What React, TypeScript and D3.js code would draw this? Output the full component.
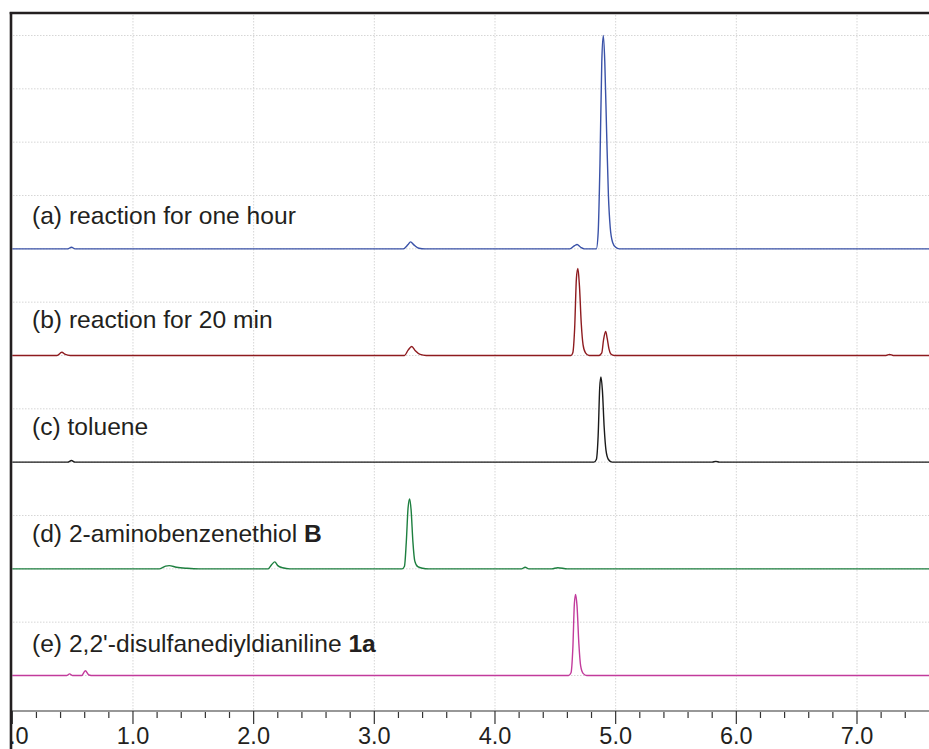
import React from "react";
import * as d3 from "d3";

// x-axis ticks (retention time, min)
const majorTicks = [0, 1, 2, 3, 4, 5, 6, 7];
const tickLabels = ["0.0", "1.0", "2.0", "3.0", "4.0", "5.0", "6.0", "7.0"];
const minorTicks = [0.2,0.4,0.6,0.8,1.2,1.4,1.6,1.8,2.2,2.4,2.6,2.8,3.2,3.4,3.6,3.8,4.2,4.4,4.6,4.8,5.2,5.4,5.6,5.8,6.2,6.4,6.6,6.8,7.2,7.4];
const gridY = [0,1,2,3,4,5,6,7,8,9,10,11,12];

// traces: [time, signal] (signal in grid units above each baseline)
const traceA: [number, number][] = [
  [0,0],[0.46,0],[0.49,0.03],[0.52,0],
  [3.24,0],[3.28,0.08],[3.30,0.13],[3.33,0.07],[3.37,0.01],[3.42,0],
  [4.62,0],[4.66,0.06],[4.68,0.08],[4.71,0.03],[4.74,0],
  [4.84,0],[4.855,0.3],[4.87,1.6],[4.885,3.5],[4.898,4.0],[4.91,3.5],[4.925,2.2],[4.94,1.0],[4.955,0.4],[4.975,0.12],[5.0,0.03],[5.03,0],
  [7.6,0],
];
const traceB: [number, number][] = [
  [0,0],[0.37,0],[0.41,0.06],[0.44,0.02],[0.48,0],
  [3.25,0],[3.28,0.1],[3.31,0.17],[3.34,0.09],[3.38,0.02],[3.43,0],
  [4.63,0],[4.645,0.05],[4.66,0.5],[4.675,1.45],[4.687,1.63],[4.70,1.3],[4.715,0.6],[4.73,0.2],[4.75,0.05],[4.78,0],
  [4.86,0],[4.885,0.05],[4.90,0.3],[4.917,0.45],[4.93,0.32],[4.945,0.12],[4.96,0.03],[4.99,0],
  [7.24,0],[7.27,0.02],[7.3,0],[7.6,0],
];
const traceC: [number, number][] = [
  [0,0],[0.46,0],[0.49,0.03],[0.52,0],
  [4.82,0],[4.84,0.05],[4.855,0.5],[4.868,1.4],[4.878,1.6],[4.89,1.35],[4.905,0.65],[4.92,0.22],[4.94,0.05],[4.97,0],
  [5.8,0],[5.83,0.015],[5.86,0],[7.6,0],
];
const traceD: [number, number][] = [
  [0,0],[1.22,0],[1.27,0.05],[1.30,0.06],[1.36,0.03],[1.45,0.01],[1.55,0],
  [2.12,0],[2.15,0.08],[2.175,0.13],[2.2,0.06],[2.24,0.02],[2.3,0],
  [3.23,0],[3.25,0.05],[3.265,0.5],[3.28,1.15],[3.293,1.31],[3.305,1.1],[3.32,0.5],[3.335,0.15],[3.36,0.04],[3.4,0.01],[3.45,0],
  [4.22,0],[4.25,0.03],[4.28,0],[4.47,0],[4.52,0.02],[4.6,0],[7.6,0],
];
const traceE: [number, number][] = [
  [0,0],[0.45,0],[0.475,0.03],[0.5,0],[0.575,0],[0.605,0.09],[0.635,0.01],[0.67,0],
  [4.61,0],[4.63,0.05],[4.645,0.5],[4.658,1.35],[4.668,1.52],[4.68,1.3],[4.695,0.6],[4.71,0.18],[4.73,0.04],[4.76,0],
  [7.6,0],
];

const seriesNames = ["a", "b", "c", "d", "e"];
const seriesOffsets = [8, 6, 4, 2, 0];
const seriesColors = ["#3a52a8", "#8e1b1f", "#1a1a1a", "#1d7f3f", "#c23b9c"];
const seriesData = [traceA, traceB, traceC, traceD, traceE];
const labelPlain = ["(a) reaction for one hour", "(b) reaction for 20 min", "(c) toluene", "(d) 2-aminobenzenethiol ", "(e) 2,2'-disulfanediyldianiline "];
const labelBold = ["", "", "", "B", "1a"];
const labelDy = [-25, -28, -27, -27, -24];

export default function App() {
  const W = 929, H = 749;
  const x = d3.scaleLinear().domain([0, 7]).range([12.3, 857]);
  const y = d3.scaleLinear().domain([0, 12]).range([675.5, 35.5]);
  const axisY = 711;
  const font = "'Liberation Sans', Arial, Helvetica, sans-serif";
  const ink = "#231f20";

  return (
    <svg width={W} height={H} style={{ position: "absolute", left: 0, top: 0, background: "#fff" }}>
      <defs>
        <clipPath id="lblclip"><rect x={11} y={0} width={W} height={H} /></clipPath>
        <clipPath id="plotclip"><rect x={12} y={14} width={W} height={axisY - 14} /></clipPath>
      </defs>
      <rect x={0} y={0} width={W} height={H} fill="#fff" />
      {/* grid */}
      <g stroke="#d6d6d6" strokeWidth={1} strokeDasharray="1.5,1.5">
        {majorTicks.filter(t => t > 0).map(t => (
          <line key={"v" + t} x1={x(t)} x2={x(t)} y1={15} y2={axisY} />
        ))}
        {gridY.map(g => (
          <line key={"h" + g} x1={13} x2={W} y1={y(g)} y2={y(g)} />
        ))}
      </g>
      {/* traces */}
      <g clipPath="url(#plotclip)" fill="none" strokeWidth={1.4} strokeLinejoin="round">
        {seriesData.map((data, i) => {
          const line = d3.line<[number, number]>()
            .x(d => x(d[0]))
            .y(d => y(d[1] + seriesOffsets[i]))
            .curve(d3.curveMonotoneX);
          return <path key={seriesNames[i]} d={line(data) || ""} stroke={seriesColors[i]} />;
        })}
      </g>
      {/* labels */}
      {labelPlain.map((t, i) => (
        <text key={"l" + i} x={32} y={y(seriesOffsets[i]) + labelDy[i]} fontFamily={font} fontSize={24.6} fill={ink}>
          {t}
          {labelBold[i] && <tspan fontWeight="bold">{labelBold[i]}</tspan>}
        </text>
      ))}
      {/* x axis */}
      <line x1={12} x2={W} y1={axisY} y2={axisY} stroke="#333" strokeWidth={1.2} />
      <g stroke="#333" strokeWidth={1.2}>
        {majorTicks.map(t => (
          <line key={"M" + t} x1={x(t)} x2={x(t)} y1={axisY} y2={axisY + 13} />
        ))}
        {minorTicks.map(t => (
          <line key={"m" + t} x1={x(t)} x2={x(t)} y1={axisY + 1} y2={axisY + 7} />
        ))}
      </g>
      <g clipPath="url(#lblclip)">
        {majorTicks.map((t, i) => (
          <text key={"t" + t} x={x(t)} y={744} textAnchor="middle" fontFamily={font} fontSize={23.5} fill={ink}>
            {tickLabels[i]}
          </text>
        ))}
      </g>
      {/* frame */}
      <line x1={11} x2={11} y1={12} y2={H} stroke={ink} strokeWidth={2.6} />
      <line x1={9.7} x2={W} y1={13} y2={13} stroke={ink} strokeWidth={2.6} />
    </svg>
  );
}
